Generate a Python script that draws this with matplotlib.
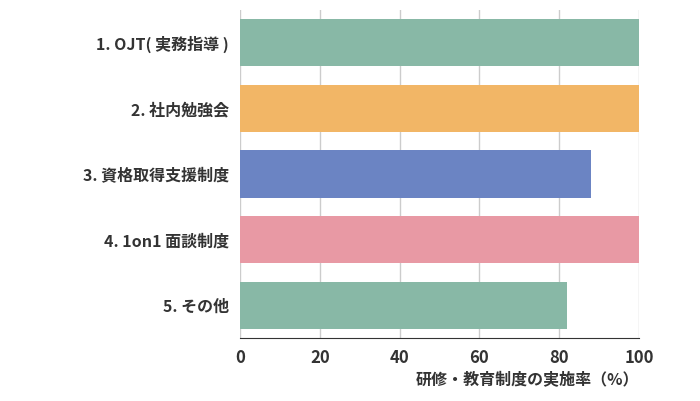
import matplotlib
matplotlib.use("Agg")
import matplotlib.pyplot as plt

plt.rcParams["font.family"] = ["Noto Sans CJK JP", "DejaVu Sans"]

categories = ["1. OJT( 実務指導 )", "2. 社内勉強会", "3. 資格取得支援制度", "4. 1on1 面談制度", "5. その他"]
values = [100, 100, 88, 100, 82]
colors = ["#88b8a6", "#f2b666", "#6b84c3", "#e899a4", "#88b8a6"]
xticks = [0, 20, 40, 60, 80, 100]

fig = plt.figure(figsize=(7.0, 4.01), dpi=100)
ax = fig.add_axes([240 / 700, 63 / 401, 399 / 700, 328 / 401])

ypos = list(range(len(categories)))
ax.barh(ypos, values, height=0.72, color=colors, zorder=2)
ax.set_ylim(len(categories) - 0.5, -0.5)
ax.set_xlim(0, 100)
ax.set_yticks(ypos)
ax.set_yticklabels(categories, fontsize=11.5, color="#333333", fontweight="bold")
ax.set_xticks(xticks)
ax.set_xticklabels([str(t) for t in xticks], fontsize=12, color="#333333", fontweight="bold")
ax.tick_params(length=0, pad=8)
ax.grid(axis="x", color="#cccccc", linewidth=1, zorder=0)
for side in ["top", "right", "left"]:
    ax.spines[side].set_visible(False)
ax.spines["bottom"].set_color("#333333")
ax.set_xlabel("研修・教育制度の実施率（%）", fontsize=11.5, color="#333333",
              fontweight="bold", loc="right", labelpad=4)

fig.savefig("out.png")
